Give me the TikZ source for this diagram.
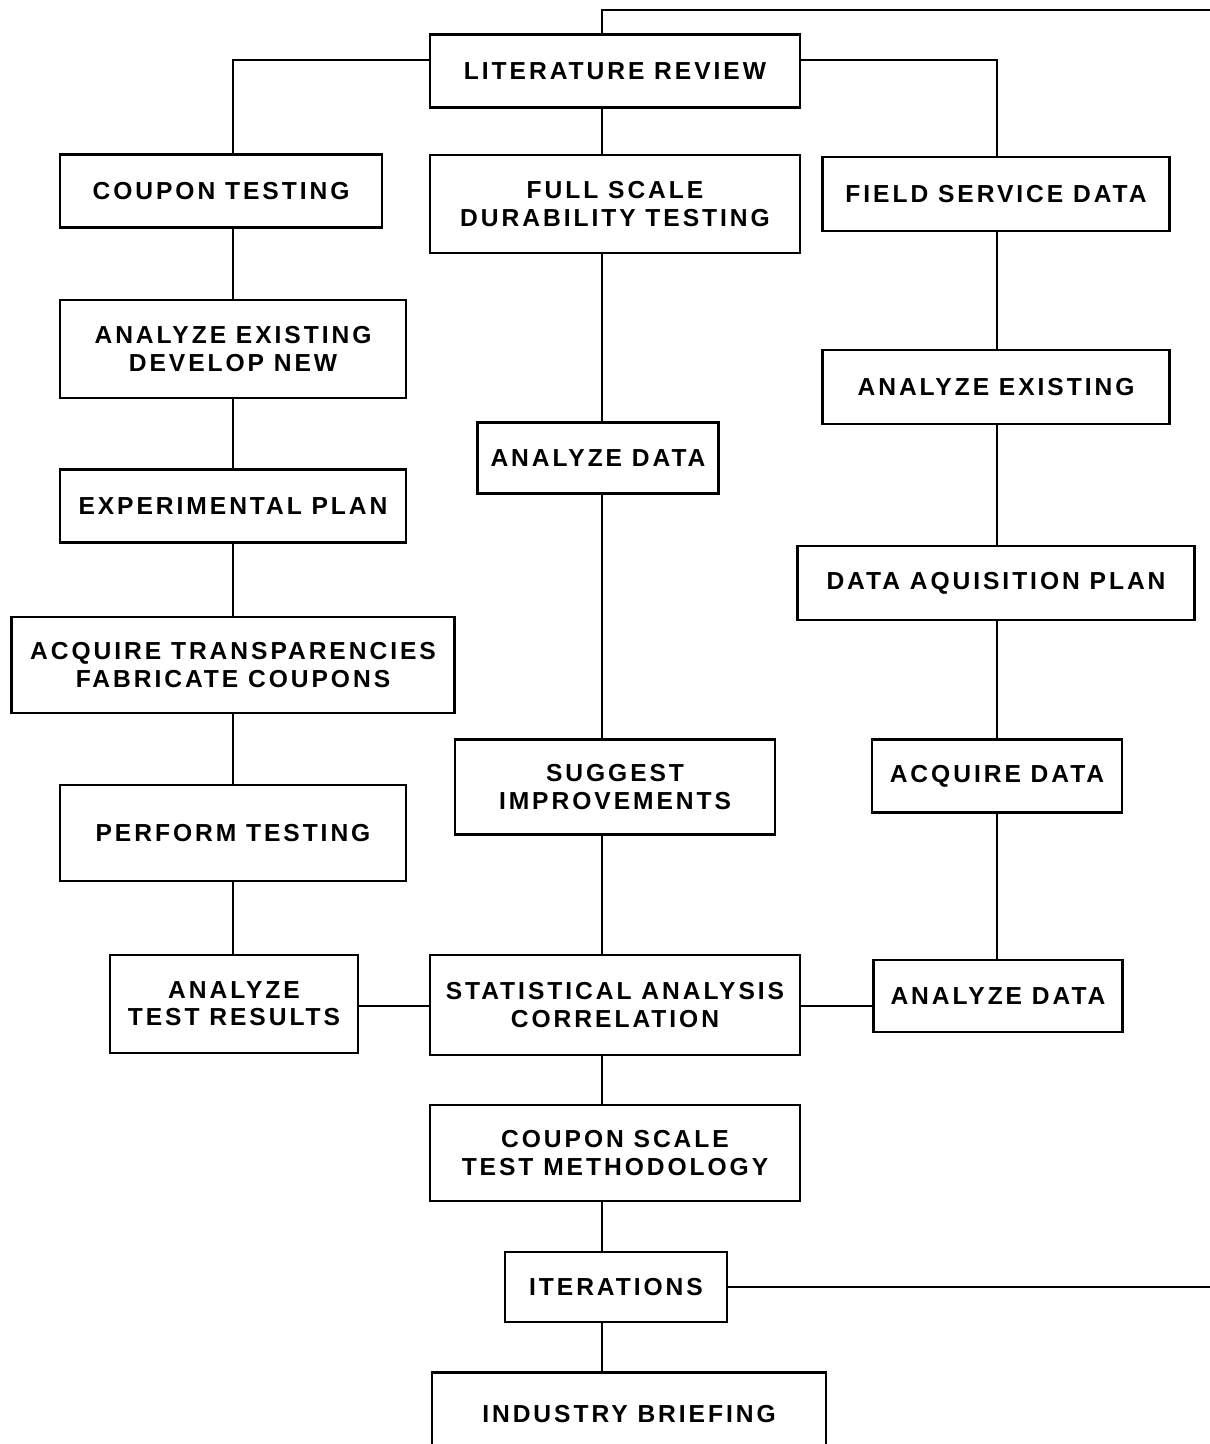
\documentclass[tikz,border=0pt]{standalone}
\usepackage{fontspec}
\setmainfont{Liberation Sans}[LetterSpace=12]
\begin{document}
\begin{tikzpicture}[x=0.02cm, y=-0.02cm,
    box/.style={draw, line width=1.3pt, align=center, inner sep=0pt,
      font=\bfseries\fontsize{14}{15.5}\selectfont},
    link/.style={line width=1.3pt}]
    \useasboundingbox (0,0) rectangle (1210,1444);
    \clip (0,0) rectangle (1210,1444);

    % top
    \node[box, minimum width=7.4cm, minimum height=1.46cm] (litrev) at (615,71) {LITERATURE REVIEW};

    % left column
    \node[box, minimum width=6.44cm, minimum height=1.46cm] (coupon) at (221,191) {COUPON TESTING};
    \node[box, minimum width=6.92cm, minimum height=1.96cm] (anexl) at (233,349) {ANALYZE EXISTING\\DEVELOP NEW};
    \node[box, minimum width=6.92cm, minimum height=1.46cm] (expplan) at (233,506) {EXPERIMENTAL PLAN};
    \node[box, minimum width=8.86cm, minimum height=1.92cm] (acqtr) at (233,665) {ACQUIRE TRANSPARENCIES\\FABRICATE COUPONS};
    \node[box, minimum width=6.92cm, minimum height=1.92cm] (perf) at (233,833) {PERFORM TESTING};
    \node[box, minimum width=4.96cm, minimum height=1.96cm] (atr) at (234,1004) {ANALYZE\\TEST RESULTS};

    % centre column
    \node[box, minimum width=7.4cm, minimum height=1.96cm] (full) at (615,204) {FULL SCALE\\DURABILITY TESTING};
    \node[box, minimum width=4.82cm, minimum height=1.42cm] (adc) at (598,458) {ANALYZE DATA};
    \node[box, minimum width=6.4cm, minimum height=1.9cm] (sugg) at (615,787) {SUGGEST\\IMPROVEMENTS};
    \node[box, minimum width=7.4cm, minimum height=2.0cm] (stat) at (615,1005) {STATISTICAL ANALYSIS\\CORRELATION};
    \node[box, minimum width=7.4cm, minimum height=1.92cm] (csm) at (615,1153) {COUPON SCALE\\TEST METHODOLOGY};
    \node[box, minimum width=4.44cm, minimum height=1.4cm] (iter) at (616,1287) {ITERATIONS};
    \node[box, minimum width=7.88cm, minimum height=1.66cm] (ind) at (629,1414) {INDUSTRY BRIEFING};

    % right column
    \node[box, minimum width=6.94cm, minimum height=1.48cm] (field) at (996,194) {FIELD SERVICE DATA};
    \node[box, minimum width=6.94cm, minimum height=1.48cm] (aexr) at (996,387) {ANALYZE EXISTING};
    \node[box, minimum width=7.94cm, minimum height=1.48cm] (dap) at (996,583) {DATA AQUISITION PLAN};
    \node[box, minimum width=5.0cm, minimum height=1.46cm] (acqd) at (997,776) {ACQUIRE DATA};
    \node[box, minimum width=4.98cm, minimum height=1.44cm] (adr) at (998,996) {ANALYZE DATA};

    % spines and loop ends
    \coordinate (lspine) at (233,0);
    \coordinate (cspine) at (602,0);
    \coordinate (rspine) at (997,0);
    \coordinate (loop) at (1210,10);
    \coordinate (ret) at (1210,1287);

    % branches from the review
    \draw[link] (litrev.west |- 0,60) -| (lspine |- coupon.north);
    \draw[link] (litrev.east |- 0,60) -| (rspine |- field.north);
    \draw[link] (cspine |- litrev.south) -- (cspine |- full.north);
    \draw[link] (cspine |- litrev.north) -- (cspine |- loop) -- (loop);

    % left chain
    \draw[link] (lspine |- coupon.south) -- (lspine |- anexl.north);
    \draw[link] (lspine |- anexl.south) -- (lspine |- expplan.north);
    \draw[link] (lspine |- expplan.south) -- (lspine |- acqtr.north);
    \draw[link] (lspine |- acqtr.south) -- (lspine |- perf.north);
    \draw[link] (lspine |- perf.south) -- (lspine |- atr.north);

    % centre chain
    \draw[link] (cspine |- full.south) -- (cspine |- adc.north);
    \draw[link] (cspine |- adc.south) -- (cspine |- sugg.north);
    \draw[link] (cspine |- sugg.south) -- (cspine |- stat.north);
    \draw[link] (cspine |- stat.south) -- (cspine |- csm.north);
    \draw[link] (cspine |- csm.south) -- (cspine |- iter.north);
    \draw[link] (cspine |- iter.south) -- (cspine |- ind.north);
    \draw[link] (iter.east) -- (ret);

    % right chain
    \draw[link] (rspine |- field.south) -- (rspine |- aexr.north);
    \draw[link] (rspine |- aexr.south) -- (rspine |- dap.north);
    \draw[link] (rspine |- dap.south) -- (rspine |- acqd.north);
    \draw[link] (rspine |- acqd.south) -- (rspine |- adr.north);

    % into the statistics box
    \draw[link] (atr.east |- 0,1006) -- (stat.west |- 0,1006);
    \draw[link] (stat.east |- 0,1006) -- (adr.west |- 0,1006);
\end{tikzpicture}
\end{document}
